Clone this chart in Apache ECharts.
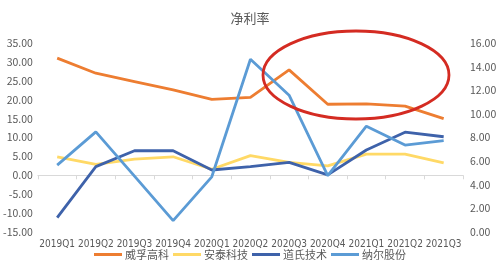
<!DOCTYPE html>
<html><head><meta charset="utf-8">
<script src="https://cdn.jsdelivr.net/npm/echarts@6/dist/echarts.min.js"></script>
<style>html,body{margin:0;padding:0;background:#fff}#c{width:500px;height:273px}</style>
</head><body><div id="c"></div>
<script>
const categories = ['2019Q1','2019Q2','2019Q3','2019Q4','2020Q1','2020Q2','2020Q3','2020Q4','2021Q1','2021Q2','2021Q3'];
const weifu = [31.0, 27.0, 24.8, 22.6, 20.1, 20.6, 27.9, 18.8, 18.9, 18.3, 15.0];
const antai = [4.9, 2.9, 4.3, 4.9, 1.6, 5.2, 3.4, 2.5, 5.6, 5.6, 3.3];
const daoshi = [-11.2, 2.3, 6.5, 6.5, 1.4, 2.3, 3.4, 0.1, 6.7, 11.4, 10.2];
const naer = [2.7, 11.5, -0.2, -12.0, -0.4, 30.7, 21.2, -0.1, 13.0, 8.0, 9.2];
const seriesNames = ['威孚高科','安泰科技','道氏技术','纳尔股份'];
const colors = ['#ED7D31','#FFD966','#3E62AA','#5B9BD5'];
const leftTicks = {min:-15, max:35, interval:5};
const rightTicks = {min:0, max:16, interval:2};

const font = 'Microsoft YaHei, "Noto Sans CJK SC", sans-serif';
const chart = echarts.init(document.getElementById('c'));
const data = [weifu, antai, daoshi, naer];
chart.setOption({
  animation:false,
  textStyle:{fontFamily:font},
  title:{text:'净利率', left:'center', top:7, textStyle:{fontSize:13, fontWeight:'normal', color:'#595959', fontFamily:font}},
  grid:{left:34, right:37, top:43, bottom:41, containLabel:false},
  legend:{bottom:8, left:'center', itemWidth:28, itemHeight:3, itemGap:4, icon:'rect',
    textStyle:{fontSize:11, color:'#595959', padding:[0,0,0,-2]}, data:seriesNames},
  xAxis:{type:'category', data:categories, boundaryGap:true,
    axisLine:{onZero:true, lineStyle:{color:'#d9d9d9'}},
    axisTick:{show:true, length:4, lineStyle:{color:'#d9d9d9'}},
    axisLabel:{color:'#595959', fontSize:10, margin:7, interval:0, fontFamily:'"DejaVu Sans Condensed", "Liberation Sans", sans-serif'}},
  yAxis:[
    {type:'value', min:leftTicks.min, max:leftTicks.max, interval:leftTicks.interval,
     splitLine:{show:false}, axisLine:{show:false}, axisTick:{show:false},
     axisLabel:{color:'#595959', fontSize:10.5, margin:5, formatter:v=>v.toFixed(2)}},
    {type:'value', min:rightTicks.min, max:rightTicks.max, interval:rightTicks.interval,
     splitLine:{show:false}, axisLine:{show:false}, axisTick:{show:false},
     axisLabel:{color:'#595959', fontSize:10.5, margin:7, formatter:v=>v.toFixed(2)}}
  ],
  series: seriesNames.map((n,i)=>({name:n, type:'line', data:data[i], symbol:'none',
    lineStyle:{width:2.8, color:colors[i]}, itemStyle:{color:colors[i]}, z:[2,1,3,4][i]})),
  graphic:[{type:'ellipse', shape:{cx:356, cy:75, rx:93, ry:44},
    style:{fill:null, stroke:'#D42B22', lineWidth:2.8}, z:100}]
});
</script></body></html>
